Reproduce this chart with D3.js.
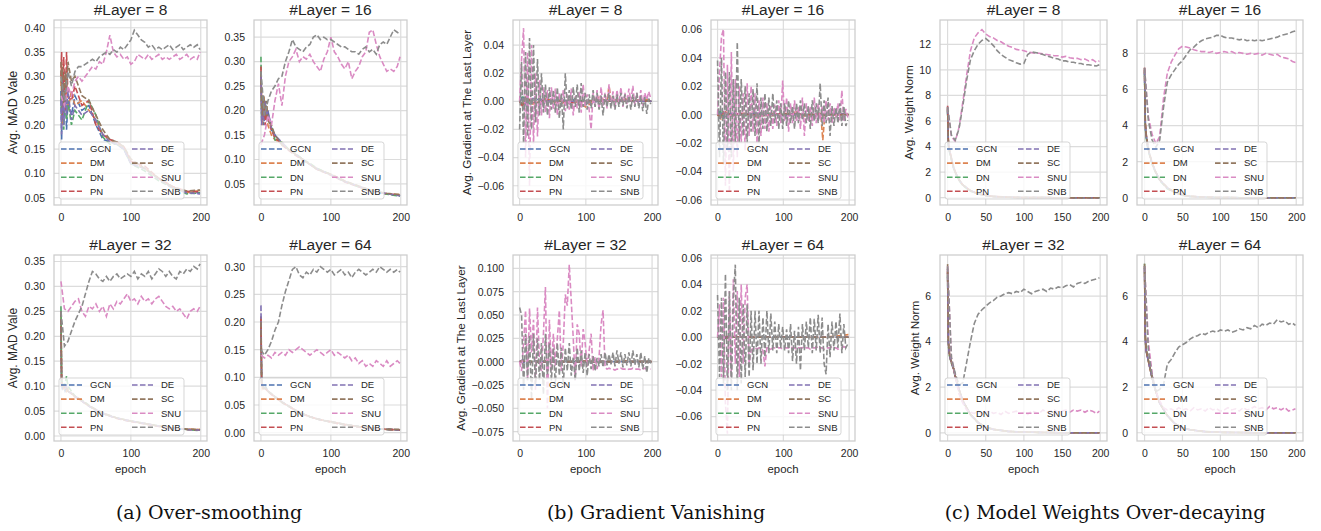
<!DOCTYPE html>
<html>
<head>
<meta charset="utf-8">
<script src="https://cdn.jsdelivr.net/npm/d3@7"></script>
<style>
  body { margin: 0; background: #fff; }
  text { font-family: "Liberation Sans", Arimo, Arial, sans-serif; fill: #262626; }
</style>
</head>
<body>
<div id="chart"></div>
<script>
const ancho = 1321
const alto = 531

const metodos = ["GCN", "DM", "DN", "PN", "DE", "SC", "SNU", "SNB"]
const colores = ["#4c72b0", "#dd8452", "#55a868", "#c44e52", "#8172b3", "#937860", "#da8bc3", "#8c8c8c"]

// epocas leidas para SNU / SNB
const epocas = [0,5,10,15,20,25,30,35,40,45,50,55,60,65,70,75,80,85,90,95,100,105,110,115,120,125,130,135,140,145,150,155,160,165,170,175,180,185,190,195,199]
const epocasGradFinas = [0,3,6,9,12,15,18,21,24,27,30,33,36,39,42,45,48,51,54,57,60,63,66,69,72,75,78,81,84,87,90,93,96,99,102,105,108,111,114,117,120,123,126,129,132,135,138,141,144,147,150,153,156,159,162,165,168,171,174,177,180,183,186,189,192,195,198]
// epocas leidas para los metodos base
const epocasMad = [0,1,2,4,6,8,10,15,20,30,40,50,60,70,80,90,100,120,140,160,180,199]
const epocasGrad = [0,5,10,20,40,60,80,100,120,132,135,138,157,160,163,180,199]
const epocasNorm = [0,1,2,4,6,8,10,15,20,30,40,50,60,80,100,150,199]

// (a) over-smoothing: MAD
const mad8_GCN = [0.27,0.17,0.30,0.22,0.28,0.19,0.25,0.22,0.26,0.23,0.24,0.2,0.17,0.165,0.16,0.15,0.12,0.11,0.09,0.07,0.062,0.06]
const mad8_DM  = [0.28,0.33,0.2,0.3,0.25,0.29,0.23,0.27,0.24,0.25,0.23,0.21,0.18,0.17,0.16,0.155,0.125,0.11,0.09,0.072,0.06,0.065]
const mad8_DN  = [0.26,0.22,0.31,0.19,0.27,0.21,0.25,0.2,0.23,0.21,0.25,0.22,0.175,0.16,0.16,0.15,0.12,0.105,0.085,0.07,0.058,0.06]
const mad8_PN  = [0.3,0.35,0.21,0.34,0.23,0.35,0.26,0.25,0.28,0.24,0.25,0.2,0.18,0.17,0.165,0.155,0.125,0.115,0.09,0.073,0.063,0.062]
const mad8_DE  = [0.25,0.18,0.29,0.2,0.26,0.22,0.27,0.21,0.24,0.22,0.23,0.21,0.18,0.165,0.16,0.15,0.12,0.11,0.088,0.07,0.06,0.058]
const mad8_SC  = [0.33,0.26,0.32,0.24,0.31,0.27,0.33,0.29,0.3,0.26,0.25,0.22,0.19,0.17,0.165,0.155,0.13,0.11,0.09,0.072,0.064,0.066]
const mad8_SNU = [0.26,0.24,0.28,0.26,0.29,0.30,0.29,0.30,0.31,0.32,0.315,0.33,0.325,0.35,0.385,0.35,0.34,0.345,0.335,0.34,0.325,0.33,0.345,0.34,0.335,0.345,0.335,0.34,0.345,0.335,0.34,0.335,0.34,0.345,0.335,0.34,0.345,0.335,0.34,0.335,0.35]
const mad8_SNB = [0.30,0.25,0.31,0.28,0.31,0.32,0.32,0.325,0.33,0.335,0.33,0.34,0.345,0.35,0.345,0.355,0.35,0.36,0.355,0.365,0.375,0.395,0.385,0.375,0.37,0.36,0.365,0.355,0.36,0.355,0.36,0.365,0.355,0.36,0.365,0.355,0.36,0.365,0.36,0.365,0.355]

const mad16_GCN = [0.28,0.19,0.22,0.17,0.21,0.18,0.2,0.16,0.15,0.13,0.12,0.11,0.1,0.09,0.08,0.075,0.068,0.055,0.045,0.035,0.03,0.026]
const mad16_DM  = [0.27,0.2,0.17,0.23,0.18,0.21,0.17,0.15,0.14,0.135,0.12,0.11,0.1,0.09,0.082,0.075,0.07,0.056,0.045,0.036,0.03,0.028]
const mad16_DN  = [0.31,0.18,0.23,0.19,0.22,0.2,0.18,0.17,0.14,0.135,0.12,0.112,0.1,0.092,0.082,0.076,0.069,0.055,0.044,0.035,0.029,0.025]
const mad16_PN  = [0.29,0.21,0.18,0.22,0.17,0.2,0.19,0.16,0.145,0.13,0.118,0.108,0.098,0.09,0.08,0.074,0.068,0.054,0.044,0.035,0.03,0.027]
const mad16_DE  = [0.27,0.17,0.21,0.18,0.22,0.19,0.2,0.165,0.15,0.135,0.12,0.11,0.1,0.09,0.081,0.075,0.069,0.055,0.045,0.036,0.03,0.026]
const mad16_SC  = [0.28,0.22,0.19,0.23,0.19,0.22,0.18,0.17,0.15,0.13,0.12,0.11,0.1,0.09,0.08,0.075,0.07,0.056,0.046,0.036,0.031,0.028]
const mad16_SNU = [0.13,0.15,0.19,0.17,0.22,0.255,0.21,0.27,0.30,0.31,0.325,0.30,0.31,0.305,0.315,0.30,0.29,0.28,0.305,0.32,0.35,0.32,0.31,0.295,0.285,0.30,0.265,0.28,0.29,0.31,0.32,0.36,0.365,0.335,0.31,0.295,0.28,0.285,0.28,0.29,0.31]
const mad16_SNB = [0.28,0.19,0.22,0.24,0.25,0.265,0.27,0.30,0.32,0.345,0.33,0.325,0.32,0.33,0.335,0.35,0.355,0.345,0.35,0.345,0.345,0.34,0.335,0.33,0.33,0.325,0.32,0.32,0.315,0.325,0.33,0.32,0.325,0.315,0.335,0.34,0.335,0.35,0.365,0.36,0.355]

const mad32_GCN = [0.21,0.1,0.095,0.1,0.09,0.095,0.09,0.085,0.08,0.07,0.06,0.052,0.045,0.04,0.036,0.032,0.03,0.025,0.02,0.016,0.013,0.012]
const mad32_DM  = [0.24,0.11,0.1,0.095,0.1,0.09,0.095,0.085,0.08,0.07,0.06,0.052,0.046,0.04,0.036,0.033,0.03,0.025,0.02,0.016,0.014,0.013]
const mad32_DN  = [0.26,0.1,0.11,0.1,0.105,0.12,0.1,0.09,0.08,0.072,0.062,0.053,0.046,0.041,0.036,0.033,0.03,0.025,0.02,0.016,0.013,0.011]
const mad32_PN  = [0.22,0.1,0.1,0.095,0.1,0.095,0.09,0.085,0.078,0.07,0.06,0.052,0.045,0.04,0.035,0.032,0.029,0.024,0.019,0.015,0.013,0.012]
const mad32_DE  = [0.25,0.105,0.1,0.1,0.095,0.1,0.09,0.086,0.08,0.07,0.06,0.052,0.046,0.04,0.036,0.033,0.03,0.025,0.02,0.016,0.013,0.012]
const mad32_SC  = [0.25,0.11,0.1,0.1,0.1,0.095,0.09,0.086,0.08,0.071,0.061,0.053,0.046,0.041,0.036,0.033,0.03,0.025,0.02,0.016,0.014,0.013]
const mad32_SNU = [0.31,0.255,0.25,0.26,0.27,0.275,0.25,0.24,0.26,0.255,0.265,0.25,0.26,0.24,0.265,0.255,0.27,0.265,0.275,0.285,0.27,0.275,0.265,0.28,0.27,0.275,0.265,0.275,0.28,0.27,0.26,0.255,0.26,0.25,0.255,0.245,0.235,0.25,0.255,0.25,0.26]
const mad32_SNB = [0.25,0.18,0.19,0.21,0.23,0.245,0.26,0.285,0.31,0.33,0.325,0.315,0.31,0.32,0.31,0.32,0.325,0.315,0.32,0.325,0.32,0.33,0.315,0.325,0.32,0.33,0.315,0.325,0.335,0.33,0.32,0.33,0.32,0.315,0.33,0.325,0.335,0.33,0.34,0.335,0.345]

const mad64_GCN = [0.19,0.09,0.085,0.08,0.085,0.08,0.075,0.07,0.065,0.055,0.048,0.04,0.034,0.029,0.025,0.022,0.02,0.015,0.011,0.008,0.006,0.005]
const mad64_DM  = [0.2,0.09,0.08,0.085,0.08,0.078,0.074,0.07,0.065,0.055,0.048,0.04,0.034,0.029,0.025,0.022,0.02,0.015,0.011,0.008,0.006,0.005]
const mad64_DN  = [0.21,0.095,0.085,0.08,0.082,0.078,0.075,0.07,0.064,0.055,0.047,0.04,0.034,0.029,0.025,0.022,0.019,0.014,0.011,0.008,0.006,0.005]
const mad64_PN  = [0.21,0.09,0.082,0.08,0.08,0.077,0.074,0.069,0.064,0.055,0.047,0.04,0.033,0.029,0.025,0.022,0.019,0.014,0.01,0.008,0.006,0.005]
const mad64_DE  = [0.23,0.095,0.085,0.082,0.08,0.078,0.075,0.07,0.065,0.056,0.048,0.04,0.034,0.029,0.025,0.022,0.02,0.015,0.011,0.008,0.006,0.005]
const mad64_SC  = [0.2,0.09,0.085,0.08,0.08,0.078,0.075,0.07,0.065,0.055,0.048,0.04,0.034,0.029,0.025,0.022,0.02,0.015,0.011,0.008,0.006,0.006]
const mad64_SNU = [0.14,0.135,0.14,0.135,0.145,0.14,0.145,0.14,0.15,0.145,0.15,0.155,0.15,0.145,0.14,0.145,0.15,0.145,0.14,0.145,0.15,0.14,0.145,0.14,0.135,0.14,0.13,0.135,0.125,0.13,0.12,0.125,0.12,0.13,0.125,0.12,0.13,0.12,0.125,0.13,0.125]
const mad64_SNB = [0.15,0.14,0.15,0.165,0.185,0.2,0.23,0.255,0.275,0.295,0.30,0.285,0.28,0.29,0.285,0.295,0.29,0.30,0.295,0.29,0.295,0.285,0.29,0.295,0.285,0.29,0.28,0.29,0.295,0.29,0.285,0.29,0.295,0.29,0.30,0.295,0.29,0.295,0.29,0.295,0.29]

// (b) gradient vanishing
const grad8_GCN = [0.0,0.004,-0.003,0.002,0.001,-0.001,0.001,0.0,0.001,0.0,0.001,0.0,0.0,0.001,0.0,0.0,0.0]
const grad8_DM  = [0.0,-0.003,0.004,-0.002,0.002,-0.002,0.001,-0.004,0.003,0.0,0.011,0.001,0.001,0.002,0.0,0.001,0.001]
const grad8_DN  = [0.0,0.003,-0.004,0.001,-0.001,0.001,0.0,0.001,0.0,0.001,0.0,0.001,0.0,0.0,0.0,0.0,0.0]
const grad8_PN  = [0.0,-0.004,0.003,-0.001,0.001,0.0,-0.001,0.0,0.001,0.0,0.0,0.0,0.001,0.0,0.0,0.0,0.0]
const grad8_DE  = [0.0,0.002,-0.002,0.002,0.0,0.001,0.0,-0.001,0.0,0.001,0.0,0.0,0.0,0.0,0.0,0.0,0.0]
const grad8_SC  = [0.0,-0.002,0.003,-0.002,0.001,0.0,0.001,0.0,0.0,0.001,0.0,0.0,0.0,0.0,0.0,0.001,0.0]
const grad8_SNU = [0.0,0.03,0.052,-0.04,0.035,-0.06,0.04,-0.03,0.02,-0.025,
  0.015,-0.01,0.01,-0.008,0.008,-0.012,0.01,-0.006,0.009,-0.01,
  0.006,-0.004,0.008,-0.007,0.005,-0.006,0.009,-0.01,0.004,-0.005,
  0.007,-0.008,0.012,-0.004,0.005,-0.006,-0.02,0.006,-0.004,0.008,
  -0.006,0.01,-0.003,0.006,-0.005,0.012,-0.004,0.007,-0.005,0.008,
  -0.002,0.01,-0.004,0.006,-0.002,0.009,0.0,0.011,-0.003,0.006,
  -0.002,0.008,-0.003,0.006,0.001,0.007,0.002]
const grad8_SNB = [-0.02,0.028,-0.03,0.035,-0.025,0.045,-0.02,0.04,-0.015,0.03,
  -0.01,0.02,-0.008,0.012,-0.01,0.01,-0.006,0.008,-0.008,0.01,
  -0.012,0.006,-0.02,0.02,-0.005,0.008,-0.006,0.01,-0.004,0.012,
  -0.008,0.013,-0.004,0.006,-0.006,0.005,-0.005,0.008,-0.004,0.006,
  -0.006,0.004,-0.01,0.005,-0.004,0.006,-0.005,0.004,-0.006,0.005,
  -0.004,0.006,-0.003,0.005,-0.005,0.004,-0.006,0.005,-0.004,0.006,
  -0.005,0.004,-0.007,0.003,-0.009,0.002,-0.002]

const grad16_GCN = [0.0,0.003,-0.002,0.001,0.0,0.001,0.0,0.0,0.001,0.0,0.0,0.0,0.0,0.0,0.0,0.0,0.0]
const grad16_DM  = [0.0,-0.003,0.003,-0.001,0.001,-0.002,0.001,0.0,0.002,-0.001,0.0,-0.001,0.0,-0.018,0.0,0.001,0.0]
const grad16_DN  = [0.0,0.002,-0.003,0.001,-0.001,0.0,0.001,0.0,0.0,0.001,0.0,0.0,0.0,0.0,0.0,0.0,0.0]
const grad16_PN  = [0.0,-0.002,0.002,0.0,0.001,-0.001,0.0,0.001,0.0,0.0,0.0,0.0,0.001,0.0,0.0,0.0,0.0]
const grad16_DE  = [0.0,0.001,-0.002,0.001,0.0,0.001,0.0,-0.001,0.0,0.0,0.0,0.0,0.0,0.0,0.0,0.001,0.0]
const grad16_SC  = [0.0,-0.001,0.002,-0.001,0.0,0.0,-0.001,0.0,0.001,0.0,0.0,0.0,0.0,0.0,0.0,0.0,0.0]
const grad16_SNU = [0.0,0.03,0.055,0.06,-0.05,0.035,-0.055,0.044,-0.04,0.025,
  -0.03,0.02,-0.02,0.015,-0.025,0.022,-0.015,0.02,-0.012,0.015,
  -0.02,0.01,-0.015,0.012,-0.01,0.008,-0.012,0.006,-0.01,0.007,
  -0.008,0.01,-0.006,0.024,-0.005,0.012,-0.012,0.008,-0.006,0.01,
  -0.005,0.006,-0.01,0.012,-0.015,0.008,-0.005,0.006,-0.008,0.012,
  -0.006,0.008,-0.004,0.006,-0.006,0.01,-0.004,0.008,-0.006,0.005,
  -0.002,0.008,-0.004,0.017,-0.005,0.004,-0.002]
const grad16_SNB = [0.038,-0.03,0.04,-0.035,0.03,-0.025,0.03,-0.03,0.025,-0.02,
  0.051,-0.02,0.025,-0.015,0.02,-0.02,0.015,-0.012,0.018,-0.015,
  0.022,-0.02,0.012,-0.01,0.015,-0.012,0.012,-0.008,0.015,-0.006,
  0.01,-0.01,0.008,-0.01,0.008,-0.008,0.01,-0.006,0.006,-0.01,
  0.008,-0.006,0.01,-0.004,0.008,-0.006,0.006,-0.01,0.01,-0.005,
  0.008,-0.006,0.022,-0.008,0.01,-0.006,0.012,-0.015,0.006,-0.008,
  0.005,-0.006,0.008,-0.008,0.006,-0.008,-0.004]

const grad32_GCN = [0.0,0.002,-0.001,0.001,0.0,0.0,0.0,0.0,0.0,0.0,0.0,0.0,0.0,0.0,0.0,0.0,0.0]
const grad32_DM  = [0.0,0.0,0.001,0.0,0.001,0.0,0.0,0.001,0.0,0.0,0.0,0.0,0.0,0.001,0.0,0.0,0.0]
const grad32_DN  = [0.0,-0.001,0.001,0.0,0.0,0.0,0.0,0.0,0.0,0.0,0.0,0.0,0.0,0.0,0.0,0.0,0.0]
const grad32_PN  = [0.0,0.001,0.0,-0.001,0.0,0.0,0.0,0.0,0.0,0.0,0.0,0.0,0.0,0.0,0.0,0.0,0.0]
const grad32_DE  = [0.0,0.0,-0.001,0.0,0.0,0.0,0.0,0.0,0.0,0.0,0.0,0.0,0.0,0.0,0.0,0.0,0.0]
const grad32_SC  = [0.0,0.001,0.0,0.0,0.0,0.0,0.0,0.0,0.0,0.0,0.0,0.0,0.0,0.0,0.0,0.0,0.0]
const grad32_SNU = [0.0,-0.01,0.02,0.055,-0.02,0.057,0.01,0.045,-0.03,0.058,
  0.0,-0.01,0.03,0.08,-0.05,0.045,-0.01,0.03,-0.005,0.025,
  0.055,-0.01,0.02,0.072,0.06,0.104,0.065,0.025,-0.02,0.04,
  0.03,-0.005,0.035,0.02,-0.005,0.012,0.03,-0.01,0.005,-0.008,
  0.005,0.04,0.055,-0.006,-0.008,-0.007,-0.008,-0.008,-0.009,-0.008,
  -0.008,-0.007,-0.008,-0.008,-0.009,-0.008,-0.008,-0.007,-0.008,-0.008,
  -0.008,-0.009,-0.008,-0.007,-0.008,-0.008,-0.008]
const grad32_SNB = [0.058,0.05,-0.03,0.03,-0.02,0.028,-0.04,0.03,-0.025,0.025,
  -0.02,0.02,-0.035,0.03,-0.015,0.02,-0.02,0.015,-0.025,0.02,
  -0.015,0.015,-0.025,0.015,-0.01,0.02,-0.015,0.005,-0.02,0.015,
  -0.01,0.012,-0.012,0.01,-0.015,0.008,-0.008,0.006,-0.01,0.004,
  -0.005,0.008,-0.006,0.01,-0.004,0.008,-0.003,0.01,-0.005,0.012,
  -0.002,0.01,-0.006,0.008,-0.004,0.01,-0.005,0.012,-0.004,0.008,
  -0.006,0.01,-0.008,0.006,-0.012,0.004,-0.002]

const grad64_GCN = [0.0,0.001,-0.001,0.0,0.0,0.0,0.0,0.0,0.0,0.0,0.0,0.0,0.0,0.0,0.0,0.0,0.0]
const grad64_DM  = [0.0,0.0,0.001,0.0,0.0,0.0,0.0,0.0,0.0,0.0,0.0,0.0,0.0,0.0,0.0,0.001,0.002]
const grad64_DN  = [0.0,-0.001,0.0,0.0,0.0,0.0,0.0,0.0,0.0,0.0,0.0,0.0,0.0,0.0,0.0,0.0,0.0]
const grad64_PN  = [0.0,0.0,0.0,0.001,0.0,0.0,0.0,0.0,0.0,0.0,0.0,0.0,0.0,0.0,0.0,0.0,0.0]
const grad64_DE  = [0.0,0.001,0.0,0.0,0.0,0.0,0.0,0.0,0.0,0.0,0.0,0.0,0.0,0.0,0.0,0.0,0.0]
const grad64_SC  = [0.0,0.0,-0.001,0.0,0.0,0.0,0.0,0.0,0.0,0.0,0.0,0.0,0.0,0.0,0.0,0.0,0.0]
const grad64_SNU = [0.0,0.025,-0.03,0.03,-0.05,-0.073,0.035,-0.03,0.044,-0.02,
  0.035,-0.03,0.04,-0.02,0.03,0.04,-0.02,-0.01,-0.008,-0.008,
  -0.009,-0.008,-0.008,-0.01,-0.022,-0.008,-0.008,-0.009,-0.008,-0.008,
  -0.007,-0.008,-0.008,-0.009,-0.008,-0.008,-0.008,-0.007,-0.008,-0.008,
  -0.009,-0.008,-0.008,-0.008,-0.007,-0.008,-0.008,-0.009,-0.008,-0.008,
  -0.008,-0.007,-0.008,-0.008,-0.009,-0.008,-0.008,-0.008,-0.007,-0.008,
  -0.008,-0.009,-0.008,-0.008,-0.007,-0.008,-0.008]
const grad64_SNB = [0.032,-0.03,0.03,-0.035,0.048,-0.04,0.035,-0.04,0.03,0.055,
  -0.04,0.03,-0.035,0.025,-0.03,0.025,-0.03,0.02,-0.025,0.02,
  -0.02,0.02,-0.02,0.015,-0.015,0.02,-0.012,0.018,-0.01,0.012,
  -0.012,0.01,-0.008,0.008,-0.01,0.006,-0.012,0.01,-0.018,0.005,
  -0.02,0.008,-0.025,0.01,-0.01,0.012,-0.008,0.015,-0.012,0.014,
  -0.01,0.017,-0.012,0.015,-0.02,-0.028,0.01,-0.015,0.012,-0.01,
  0.012,-0.008,0.018,-0.012,0.01,-0.008,-0.005]

// (c) model weights over-decaying
const norm8_GCN = [6.9,4.2,3.8,3.3,2.8,2.3,2.0,1.4,1.0,0.55,0.3,0.18,0.1,0.04,0.01,0.0,0.0]
const norm8_DM  = [7.0,4.3,3.8,3.3,2.8,2.35,2.0,1.4,1.0,0.55,0.3,0.18,0.1,0.04,0.01,0.0,0.0]
const norm8_DN  = [6.8,4.1,3.7,3.2,2.7,2.3,1.95,1.35,0.95,0.5,0.3,0.17,0.1,0.04,0.01,0.0,0.0]
const norm8_PN  = [7.2,4.5,3.9,3.4,2.85,2.4,2.05,1.4,1.0,0.55,0.3,0.18,0.1,0.04,0.01,0.0,0.0]
const norm8_DE  = [7.0,4.3,3.8,3.3,2.8,2.3,2.0,1.4,1.0,0.55,0.3,0.18,0.1,0.04,0.01,0.0,0.0]
const norm8_SC  = [7.1,4.4,3.9,3.35,2.8,2.35,2.0,1.4,1.0,0.55,0.3,0.18,0.1,0.04,0.01,0.0,0.0]
const norm8_SNU = [7.1,4.8,4.4,5.5,7.5,9.6,11.5,12.5,12.9,13.15,12.8,12.6,12.5,12.3,12.2,12.0,11.85,11.75,11.6,11.55,11.5,11.4,11.35,11.3,11.3,11.25,11.2,11.15,11.1,11.1,11.0,11.05,10.95,10.9,10.9,10.8,10.85,10.7,10.8,10.6,10.7]
const norm8_SNB = [7.1,4.9,4.5,5.4,7.2,9.2,10.8,11.5,12.0,12.3,12.45,12.2,11.9,11.5,11.2,11.0,10.8,10.7,10.55,10.45,10.5,11.2,11.4,11.35,11.3,11.2,11.1,11.0,10.9,10.85,10.7,10.7,10.6,10.6,10.5,10.5,10.4,10.4,10.35,10.3,10.4]

const norm16_GCN = [7.0,4.0,3.5,2.9,2.5,2.2,1.9,1.4,1.0,0.55,0.3,0.15,0.08,0.03,0.01,0.0,0.0]
const norm16_DM  = [7.1,4.1,3.5,2.9,2.5,2.2,1.9,1.4,1.0,0.55,0.3,0.15,0.08,0.03,0.01,0.0,0.0]
const norm16_DN  = [6.9,3.9,3.4,2.8,2.45,2.15,1.85,1.35,0.95,0.5,0.28,0.14,0.08,0.03,0.01,0.0,0.0]
const norm16_PN  = [7.2,4.2,3.6,3.0,2.55,2.25,1.95,1.4,1.0,0.55,0.3,0.15,0.08,0.03,0.01,0.0,0.0]
const norm16_DE  = [7.1,4.0,3.5,2.9,2.5,2.2,1.9,1.4,1.0,0.55,0.3,0.15,0.08,0.03,0.01,0.0,0.0]
const norm16_SC  = [7.2,4.1,3.5,2.95,2.5,2.2,1.9,1.4,1.0,0.55,0.3,0.15,0.08,0.03,0.01,0.0,0.0]
const norm16_SNU = [7.2,4.5,3.5,3.0,3.4,5.5,6.9,7.5,7.9,8.25,8.4,8.35,8.3,8.2,8.15,8.1,8.1,8.05,8.1,8.0,8.05,8.1,8.05,8.1,8.0,8.05,8.0,7.95,8.0,7.95,8.0,7.9,8.0,7.95,7.9,7.95,7.8,7.75,7.7,7.55,7.5]
const norm16_SNB = [7.2,4.3,3.2,2.8,3.2,5.0,6.4,6.8,7.1,7.4,7.6,7.9,8.2,8.35,8.55,8.7,8.8,8.85,8.9,9.0,9.0,8.9,8.85,8.85,8.8,8.75,8.8,8.7,8.75,8.7,8.75,8.7,8.75,8.8,8.85,8.9,9.0,9.05,9.1,9.2,9.25]

const norm32_GCN = [7.0,4.0,3.5,3.2,3.0,2.8,2.5,1.9,1.4,0.8,0.45,0.25,0.15,0.06,0.03,0.0,0.0]
const norm32_DM  = [7.1,4.0,3.5,3.2,3.0,2.8,2.5,1.9,1.4,0.8,0.45,0.25,0.15,0.06,0.03,0.0,0.0]
const norm32_DN  = [6.9,3.9,3.45,3.15,2.95,2.75,2.45,1.85,1.35,0.78,0.44,0.24,0.15,0.06,0.03,0.0,0.0]
const norm32_PN  = [7.2,4.05,3.55,3.2,3.0,2.8,2.5,1.9,1.4,0.8,0.45,0.25,0.15,0.06,0.03,0.0,0.0]
const norm32_DE  = [7.2,4.0,3.5,3.2,3.0,2.8,2.5,1.9,1.4,0.8,0.45,0.25,0.15,0.06,0.03,0.0,0.0]
const norm32_SC  = [7.4,4.1,3.6,3.25,3.0,2.8,2.5,1.9,1.4,0.8,0.45,0.25,0.15,0.06,0.03,0.0,0.0]
const norm32_SNU = [7.3,3.3,2.5,1.7,1.3,1.0,0.9,0.85,0.95,0.8,0.9,0.95,0.85,0.9,0.8,0.95,0.85,0.9,0.95,0.85,0.9,0.8,0.95,0.9,0.85,1.0,0.9,0.95,1.0,0.9,0.95,1.0,0.9,1.0,0.95,1.0,0.9,1.0,0.95,0.85,0.95]
const norm32_SNB = [7.3,3.3,2.6,2.1,2.2,3.1,4.0,4.8,5.2,5.4,5.55,5.7,5.8,5.95,6.0,6.1,6.15,6.1,6.2,6.15,6.3,6.2,6.1,6.2,6.25,6.3,6.2,6.35,6.3,6.4,6.35,6.45,6.5,6.4,6.55,6.6,6.55,6.65,6.7,6.75,6.8]

const norm64_GCN = [7.2,4.2,3.6,3.3,3.0,2.7,2.4,1.8,1.3,0.75,0.4,0.22,0.13,0.05,0.02,0.0,0.0]
const norm64_DM  = [7.1,4.1,3.6,3.3,3.0,2.7,2.4,1.8,1.3,0.75,0.4,0.22,0.13,0.05,0.02,0.0,0.0]
const norm64_DN  = [7.4,4.2,3.65,3.3,3.0,2.7,2.4,1.8,1.3,0.75,0.4,0.22,0.13,0.05,0.02,0.0,0.0]
const norm64_PN  = [7.3,4.3,3.6,3.3,3.0,2.7,2.4,1.8,1.3,0.75,0.4,0.22,0.13,0.05,0.02,0.0,0.0]
const norm64_DE  = [7.2,4.2,3.6,3.3,3.0,2.7,2.4,1.8,1.3,0.75,0.4,0.22,0.13,0.05,0.02,0.0,0.0]
const norm64_SC  = [7.4,4.3,3.7,3.35,3.05,2.75,2.45,1.8,1.3,0.75,0.4,0.22,0.13,0.05,0.02,0.0,0.0]
const norm64_SNU = [7.3,4.0,2.6,1.8,1.4,1.1,1.0,1.05,0.95,1.1,1.0,1.05,0.95,1.1,1.0,1.05,0.95,1.1,1.0,1.05,0.95,1.0,1.1,1.0,1.05,0.95,1.1,1.0,1.05,1.15,1.05,1.1,1.0,1.15,1.05,1.1,1.0,1.1,0.95,1.0,1.05]
const norm64_SNB = [7.3,3.6,2.5,1.8,1.9,2.1,3.0,3.2,3.5,3.75,3.85,3.95,4.1,4.2,4.25,4.35,4.3,4.4,4.45,4.4,4.5,4.45,4.5,4.4,4.45,4.55,4.5,4.6,4.55,4.7,4.6,4.75,4.7,4.8,4.75,4.95,4.85,4.9,4.75,4.8,4.7]

// ticks de cada eje
const ticksX3 = [0, 100, 200]
const ticksX5 = [0, 50, 100, 150, 200]
const ticksMad8 = [0.05, 0.10, 0.15, 0.20, 0.25, 0.30, 0.35, 0.40]
const ticksMad16 = [0.05, 0.10, 0.15, 0.20, 0.25, 0.30, 0.35]
const ticksMad32 = [0.00, 0.05, 0.10, 0.15, 0.20, 0.25, 0.30, 0.35]
const ticksMad64 = [0.00, 0.05, 0.10, 0.15, 0.20, 0.25, 0.30]
const ticksGrad8 = [-0.06, -0.04, -0.02, 0.00, 0.02, 0.04]
const ticksGrad16 = [-0.06, -0.04, -0.02, 0.00, 0.02, 0.04, 0.06]
const ticksGrad32 = [-0.075, -0.050, -0.025, 0.000, 0.025, 0.050, 0.075, 0.100]
const ticksGrad64 = [-0.06, -0.04, -0.02, 0.00, 0.02, 0.04, 0.06]
const ticksNorm8 = [0, 2, 4, 6, 8, 10, 12]
const ticksNorm16 = [0, 2, 4, 6, 8]
const ticksNorm32 = [0, 2, 4, 6]

// posiciones de los paneles
const colA = [[54, 207], [254, 407]]
const colB = [[513, 658], [711, 855]]
const colC = [[940, 1107], [1137, 1303]]
const filas = [[20, 205], [255, 441]]

const paneles = [
  { x: colA[0], y: filas[0], capa: 8, dom: [0.035, 0.416], ticks: ticksMad8, fmt: ".2f", tx: ticksX3, ep: epocasMad,
    base: [mad8_GCN, mad8_DM, mad8_DN, mad8_PN, mad8_DE, mad8_SC], snu: mad8_SNU, snb: mad8_SNB, etiqueta: "Avg. MAD Vale", lx: 13, fs: 12.5 },
  { x: colA[1], y: filas[0], capa: 16, dom: [0.007, 0.385], ticks: ticksMad16, fmt: ".2f", tx: ticksX3, ep: epocasMad,
    base: [mad16_GCN, mad16_DM, mad16_DN, mad16_PN, mad16_DE, mad16_SC], snu: mad16_SNU, snb: mad16_SNB },
  { x: colA[0], y: filas[1], capa: 32, dom: [-0.010, 0.363], ticks: ticksMad32, fmt: ".2f", tx: ticksX3, ep: epocasMad,
    base: [mad32_GCN, mad32_DM, mad32_DN, mad32_PN, mad32_DE, mad32_SC], snu: mad32_SNU, snb: mad32_SNB, etiqueta: "Avg. MAD Vale", lx: 13, fs: 12 },
  { x: colA[1], y: filas[1], capa: 64, dom: [-0.015, 0.321], ticks: ticksMad64, fmt: ".2f", tx: ticksX3, ep: epocasMad,
    base: [mad64_GCN, mad64_DM, mad64_DN, mad64_PN, mad64_DE, mad64_SC], snu: mad64_SNU, snb: mad64_SNB },

  { x: colB[0], y: filas[0], capa: 8, dom: [-0.0737, 0.0578], ticks: ticksGrad8, fmt: ".2f", tx: ticksX3, ep: epocasGrad, epS: epocasGradFinas,
    base: [grad8_GCN, grad8_DM, grad8_DN, grad8_PN, grad8_DE, grad8_SC], snu: grad8_SNU, snb: grad8_SNB, etiqueta: "Avg. Gradient at The Last Layer", lx: 467, fs: 11.7 },
  { x: colB[1], y: filas[0], capa: 16, dom: [-0.0635, 0.0665], ticks: ticksGrad16, fmt: ".2f", tx: ticksX3, ep: epocasGrad, epS: epocasGradFinas,
    base: [grad16_GCN, grad16_DM, grad16_DN, grad16_PN, grad16_DE, grad16_SC], snu: grad16_SNU, snb: grad16_SNB },
  { x: colB[0], y: filas[1], capa: 32, dom: [-0.085, 0.1143], ticks: ticksGrad32, fmt: ".3f", tx: ticksX3, ep: epocasGrad, epS: epocasGradFinas,
    base: [grad32_GCN, grad32_DM, grad32_DN, grad32_PN, grad32_DE, grad32_SC], snu: grad32_SNU, snb: grad32_SNB, etiqueta: "Avg. Gradient at The Last Layer", lx: 461, fs: 11.7 },
  { x: colB[1], y: filas[1], capa: 64, dom: [-0.0785, 0.0623], ticks: ticksGrad64, fmt: ".2f", tx: ticksX3, ep: epocasGrad, epS: epocasGradFinas,
    base: [grad64_GCN, grad64_DM, grad64_DN, grad64_PN, grad64_DE, grad64_SC], snu: grad64_SNU, snb: grad64_SNB },

  { x: colC[0], y: filas[0], capa: 8, dom: [-0.57, 13.9], ticks: ticksNorm8, fmt: "d", tx: ticksX5, ep: epocasNorm,
    base: [norm8_GCN, norm8_DM, norm8_DN, norm8_PN, norm8_DE, norm8_SC], snu: norm8_SNU, snb: norm8_SNB, etiqueta: "Avg. Weight Norm", lx: 909, fs: 11.7 },
  { x: colC[1], y: filas[0], capa: 16, dom: [-0.40, 9.85], ticks: ticksNorm16, fmt: "d", tx: ticksX5, ep: epocasNorm,
    base: [norm16_GCN, norm16_DM, norm16_DN, norm16_PN, norm16_DE, norm16_SC], snu: norm16_SNU, snb: norm16_SNB },
  { x: colC[0], y: filas[1], capa: 32, dom: [-0.36, 7.8], ticks: ticksNorm32, fmt: "d", tx: ticksX5, ep: epocasNorm,
    base: [norm32_GCN, norm32_DM, norm32_DN, norm32_PN, norm32_DE, norm32_SC], snu: norm32_SNU, snb: norm32_SNB, etiqueta: "Avg. Weight Norm", lx: 915, fs: 11.7 },
  { x: colC[1], y: filas[1], capa: 64, dom: [-0.36, 7.78], ticks: ticksNorm32, fmt: "d", tx: ticksX5, ep: epocasNorm,
    base: [norm64_GCN, norm64_DM, norm64_DN, norm64_PN, norm64_DE, norm64_SC], snu: norm64_SNU, snb: norm64_SNB }
]

const subtitulos = [
  { texto: "(a) Over-smoothing", x: 209 },
  { texto: "(b) Gradient Vanishing", x: 656 },
  { texto: "(c) Model Weights Over-decaying", x: 1105 }
]

const colorGrilla = "#dcdcdc"
const colorMarco = "#cccccc"
const trazo = "5.55,2.4"

const svg = d3.select("#chart").append("svg")
  .attr("width", ancho)
  .attr("height", alto)
  .style("display", "block")

paneles.forEach((p, i) => {
  const x = d3.scaleLinear().domain([-9.95, 208.95]).range(p.x)
  const y = d3.scaleLinear().domain(p.dom).range([p.y[1], p.y[0]])
  const g = svg.append("g").attr("class", "panel")

  // grilla
  g.selectAll("line.gx").data(p.tx).join("line").attr("class", "gx")
    .attr("x1", d => x(d)).attr("x2", d => x(d))
    .attr("y1", p.y[0]).attr("y2", p.y[1])
    .attr("stroke", colorGrilla).attr("stroke-width", 1.2)
  g.selectAll("line.gy").data(p.ticks).join("line").attr("class", "gy")
    .attr("x1", p.x[0]).attr("x2", p.x[1])
    .attr("y1", d => y(d)).attr("y2", d => y(d))
    .attr("stroke", colorGrilla).attr("stroke-width", 1.2)

  // ejes
  const ejeX = g.append("g").attr("transform", `translate(0,${p.y[1]})`)
    .call(d3.axisBottom(x).tickValues(p.tx).tickSize(0).tickPadding(8.5).tickFormat(d3.format("d")))
  const ejeY = g.append("g").attr("transform", `translate(${p.x[0]},0)`)
    .call(d3.axisLeft(y).tickValues(p.ticks).tickSize(0).tickPadding(9).tickFormat(d3.format(p.fmt)))
  ;[ejeX, ejeY].forEach(e => {
    e.select(".domain").remove()
    e.attr("font-family", null).attr("font-size", null)
    e.selectAll("text").style("font-size", "10.5px").attr("fill", "#262626")
  })

  // lineas
  g.append("clipPath").attr("id", "clip" + i).append("rect")
    .attr("x", p.x[0]).attr("y", p.y[0])
    .attr("width", p.x[1] - p.x[0]).attr("height", p.y[1] - p.y[0])
  const epS = p.epS || epocas
  const series = p.base.map(v => ({ ep: p.ep, v: v }))
    .concat([{ ep: epS, v: p.snu }, { ep: epS, v: p.snb }])
  const linea = d => d3.line().x((v, j) => x(d.ep[j])).y(v => y(v))(d.v)
  g.append("g").attr("clip-path", `url(#clip${i})`)
    .selectAll("path").data(series).join("path")
    .attr("d", linea)
    .attr("fill", "none")
    .attr("stroke", (d, j) => colores[j])
    .attr("stroke-width", 1.6)
    .attr("stroke-dasharray", trazo)

  // marco
  g.append("rect")
    .attr("x", p.x[0]).attr("y", p.y[0])
    .attr("width", p.x[1] - p.x[0]).attr("height", p.y[1] - p.y[0])
    .attr("fill", "none").attr("stroke", colorMarco).attr("stroke-width", 1.25)

  // titulo
  g.append("text")
    .attr("x", (p.x[0] + p.x[1]) / 2).attr("y", p.y[0] - 5)
    .attr("text-anchor", "middle").style("font-size", "15.5px")
    .text("#Layer = " + p.capa)

  if (p.etiqueta) {
    g.append("text")
      .attr("transform", `translate(${p.lx},${(p.y[0] + p.y[1]) / 2}) rotate(-90)`)
      .attr("text-anchor", "middle").attr("dy", "0.35em").style("font-size", p.fs + "px")
      .text(p.etiqueta)
  }
  if (p.y[0] > 100) {
    g.append("text")
      .attr("x", (p.x[0] + p.x[1]) / 2).attr("y", p.y[1] + 32)
      .attr("text-anchor", "middle").style("font-size", "11.4px")
      .text("epoch")
  }

  // leyenda
  const lx = p.x[0] + 5
  const ly = p.y[1] - 6 - 57
  const ley = g.append("g").attr("transform", `translate(${lx},${ly})`)
  ley.append("rect")
    .attr("width", 125).attr("height", 57).attr("rx", 2.5)
    .attr("fill", "#fff").attr("fill-opacity", 0.8)
    .attr("stroke", colorMarco).attr("stroke-opacity", 0.8)
  const items = ley.selectAll("g.item").data(metodos).join("g").attr("class", "item")
    .attr("transform", (d, j) => `translate(${Math.floor(j / 4) * 71},${7 + (j % 4) * 14.1})`)
  items.append("line")
    .attr("x1", 2).attr("x2", 23).attr("y1", 0).attr("y2", 0)
    .attr("stroke", (d, j) => colores[j]).attr("stroke-width", 1.6)
    .attr("stroke-dasharray", trazo)
  items.append("text")
    .attr("x", 31).attr("y", 0).attr("dy", "0.35em")
    .style("font-size", "9.5px")
    .text(d => d)
})

svg.selectAll("text.sub").data(subtitulos).join("text").attr("class", "sub")
  .attr("x", d => d.x).attr("y", 519)
  .attr("text-anchor", "middle")
  .style("font-family", "'DejaVu Serif', serif").style("font-size", "19px").style("fill", "#111")
  .text(d => d.texto)
</script>
</body>
</html>
